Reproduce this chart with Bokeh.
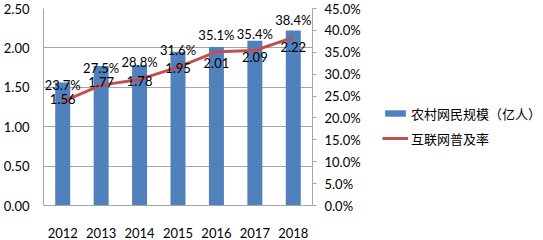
from bokeh.plotting import figure
from bokeh.models import (ColumnDataSource, Range1d, LinearAxis, FactorRange,
                          Legend, LegendItem, NumeralTickFormatter, FixedTicker)
from bokeh.layouts import row
from bokeh.core.properties import value
from bokeh.embed import file_html
from bokeh.resources import INLINE

years = ["2012", "2013", "2014", "2015", "2016", "2017", "2018"]
users = [1.56, 1.77, 1.78, 1.95, 2.01, 2.09, 2.22]
rate = [0.237, 0.275, 0.288, 0.316, 0.351, 0.354, 0.384]
user_labels = ["1.56", "1.77", "1.78", "1.95", "2.01", "2.09", "2.22"]
rate_labels = ["23.7%", "27.5%", "28.8%", "31.6%", "35.1%", "35.4%", "38.4%"]
bar_name = "农村网民规模（亿人）"
line_name = "互联网普及率"

FONT = "Lato"
CJK = "Noto Sans CJK SC"
AX = "#A6A6A6"
GRID = "#A6A6A6"
BAR_COLOR = "#4F81BD"
LINE_COLOR = "#C0504D"

src = ColumnDataSource(dict(x=years, users=users, rate=rate,
                            ul=user_labels, rl=rate_labels))

p = figure(width=363, height=240, x_range=FactorRange(*years, range_padding=0),
           y_range=Range1d(0, 2.5), output_backend="svg", toolbar_location=None,
           min_border_left=43, min_border_right=50, min_border_top=8,
           min_border_bottom=30)
p.outline_line_color = None
p.background_fill_color = "white"
p.border_fill_color = "white"
p.extra_y_ranges = {"pct": Range1d(0, 0.45)}

p.vbar(x="x", top="users", width=0.39, source=src, color=BAR_COLOR,
       line_color=None)
p.line(x="x", y="rate", source=src, y_range_name="pct",
       line_color=LINE_COLOR, line_width=3)

p.text(x="x", y="users", text="ul", source=src, y_offset=16,
       text_align="center", text_baseline="middle", text_font=value(FONT),
       text_font_size="13px", text_color="black")
p.text(x="x", y="rate", text="rl", source=src, y_range_name="pct", y_offset=-17,
       text_align="center", text_baseline="middle", text_font=value(FONT),
       text_font_size="13px", text_color="black")

# left axis
ya = p.yaxis[0]
ya.ticker = FixedTicker(ticks=[0, 0.5, 1.0, 1.5, 2.0, 2.5])
ya.formatter = NumeralTickFormatter(format="0.00")
ya.major_tick_line_color = None
ya.minor_tick_line_color = None
ya.axis_line_color = AX
ya.major_label_text_font = FONT
ya.major_label_text_font_size = "13px"
ya.major_label_text_color = "black"
ya.major_label_standoff = 8

# x axis
xa = p.xaxis[0]
xa.axis_line_color = AX
xa.major_tick_line_color = None
xa.minor_tick_line_color = None
xa.major_label_text_font = FONT
xa.major_label_text_font_size = "13px"
xa.major_label_text_color = "black"
xa.major_label_standoff = 16

# right axis
ra = LinearAxis(y_range_name="pct")
ra.ticker = FixedTicker(ticks=[i * 0.05 for i in range(10)])
ra.formatter = NumeralTickFormatter(format="0.0%")
ra.axis_line_color = AX
ra.major_tick_line_color = AX
ra.major_tick_out = 4
ra.major_tick_in = 0
ra.minor_tick_line_color = None
ra.major_label_text_font = FONT
ra.major_label_text_font_size = "13px"
ra.major_label_text_color = "black"
ra.major_label_standoff = 8
p.add_layout(ra, "right")

p.xgrid.grid_line_color = None
p.ygrid.grid_line_color = GRID
p.ygrid.ticker = FixedTicker(ticks=[0.5, 1.0, 1.5, 2.0])

# legend panel (separate figure to the right)
q = figure(width=180, height=240, x_range=Range1d(0, 1), y_range=Range1d(0, 1),
           output_backend="svg", toolbar_location=None,
           x_axis_location=None, y_axis_location=None,
           min_border=0, min_border_left=0, min_border_right=0,
           min_border_top=0, min_border_bottom=0)
q.grid.visible = False
q.outline_line_color = None
q.background_fill_color = "white"
q.border_fill_color = "white"
# legend proxies placed outside the visible range
proxy = ColumnDataSource(dict(x=[-10, -9], y=[-10, -10]))
lb = q.vbar(x="x", top="y", width=0.1, source=proxy, color=BAR_COLOR,
            line_color=None)
ll = q.line(x="x", y="y", source=proxy, line_color=LINE_COLOR, line_width=3)

legend = Legend(items=[LegendItem(label=bar_name, renderers=[lb]),
                       LegendItem(label=line_name, renderers=[ll])],
                location=(19, 57), orientation="vertical",
                label_text_font=CJK, label_text_font_size="13px",
                label_text_color="black", glyph_width=26, glyph_height=8,
                label_height=20, spacing=5, padding=0, margin=0,
                label_standoff=3, border_line_color=None,
                background_fill_alpha=0)
q.add_layout(legend, "center")

layout = row(p, q, spacing=0)
open("out.html", "w").write(file_html(layout, INLINE))
